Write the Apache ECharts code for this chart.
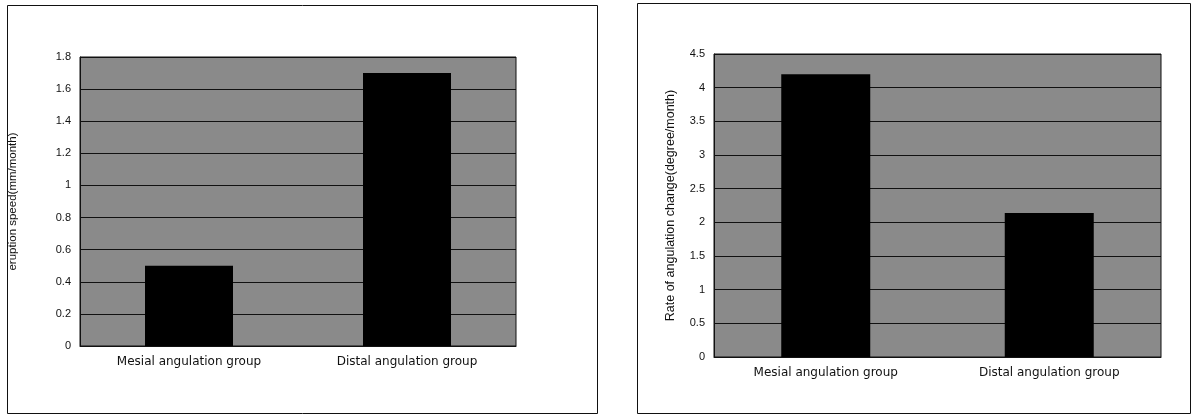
<!DOCTYPE html>
<html><head><meta charset="utf-8">
<script src="https://cdn.jsdelivr.net/npm/echarts@6/dist/echarts.min.js"></script>
<style>html,body{margin:0;padding:0;background:#fff}#c{width:1197px;height:420px}</style>
</head><body><div id="c"></div>
<script>
const categories = ['Mesial angulation group', 'Distal angulation group'];
const eruptionSpeed = [0.5, 1.7];
const angulationRate = [4.2, 2.14];
const leftTicks = ['0', '0.2', '0.4', '0.6', '0.8', '1', '1.2', '1.4', '1.6', '1.8'];
const rightTicks = ['0', '0.5', '1', '1.5', '2', '2.5', '3', '3.5', '4', '4.5'];
const leftAxisName = 'eruption speed(mm/month)';
const rightAxisName = 'Rate of angulation change(degree/month)';

const chart = echarts.init(document.getElementById('c'), null, {renderer: 'canvas'});
const catAxis = (gi) => ({
  type: 'category', gridIndex: gi, data: categories,
  axisLine: {show: true, lineStyle: {color: '#111', width: 1}},
  axisTick: {show: false},
  axisLabel: {color: '#111', fontSize: 12, margin: 10, fontFamily: 'DejaVu Sans'}
});
const valAxis = (gi, max, interval, name, gap, ticks, nameSize) => ({
  type: 'value', gridIndex: gi, min: 0, max: max, interval: interval,
  name: name, nameLocation: 'middle', nameGap: gap, nameRotate: 90,
  nameTextStyle: {color: '#111', fontSize: nameSize, fontFamily: 'Liberation Sans'},
  axisLine: {show: true, lineStyle: {color: '#111'}},
  axisTick: {show: false},
  axisLabel: {color: '#111', fontSize: 11, margin: 9, fontFamily: 'Liberation Sans',
    formatter: (v) => { const i = Math.round(v / interval); return ticks[i] !== undefined ? ticks[i] : v; }},
  splitLine: {show: true, lineStyle: {color: '#111', width: 1}}
});
chart.setOption({
  animation: false,
  backgroundColor: '#fff',
  graphic: [
    {type: 'rect', shape: {x: 7.5, y: 5.5, width: 590, height: 408}, style: {fill: 'none', stroke: '#111', lineWidth: 1}},
    {type: 'rect', shape: {x: 637.5, y: 3.5, width: 553, height: 410}, style: {fill: 'none', stroke: '#111', lineWidth: 1}}
  ],
  grid: [
    {left: 80, top: 57, width: 436, height: 289, show: true, backgroundColor: '#8a8a8a', borderColor: '#111', borderWidth: 1},
    {left: 714, top: 54, width: 447, height: 303, show: true, backgroundColor: '#8a8a8a', borderColor: '#111', borderWidth: 1}
  ],
  xAxis: [catAxis(0), catAxis(1)],
  yAxis: [
    valAxis(0, 1.8, 0.2, leftAxisName, 61, leftTicks, 11.5),
    valAxis(1, 4.5, 0.5, rightAxisName, 37, rightTicks, 12.5)
  ],
  series: [
    {type: 'bar', xAxisIndex: 0, yAxisIndex: 0, data: eruptionSpeed, barWidth: 88, itemStyle: {color: '#000'}},
    {type: 'bar', xAxisIndex: 1, yAxisIndex: 1, data: angulationRate, barWidth: 89, itemStyle: {color: '#000'}}
  ]
});
</script></body></html>
